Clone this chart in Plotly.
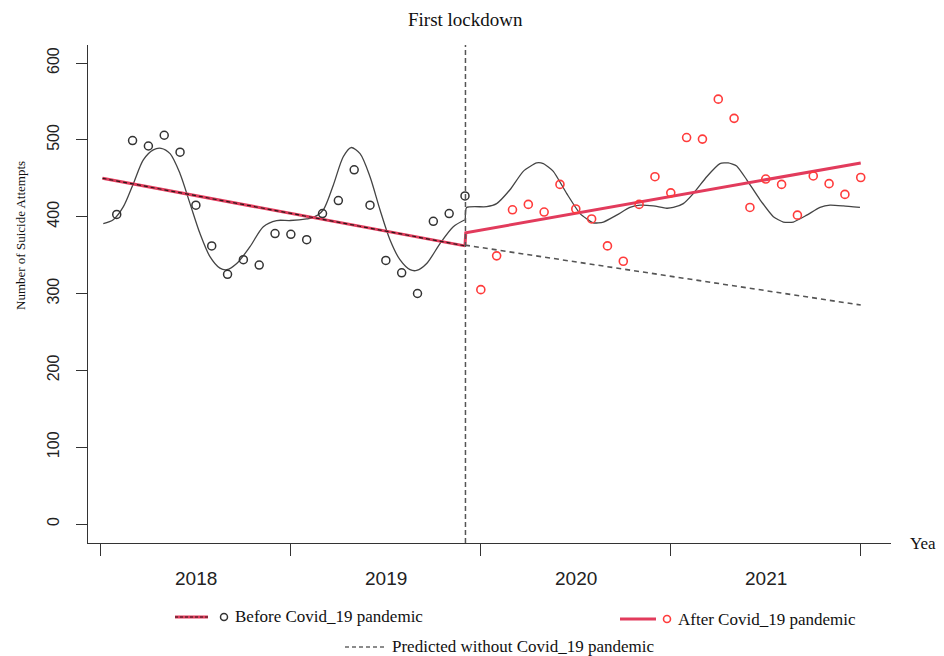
import plotly.graph_objects as go

# ---- data (months since Jan 2018 on x) ----
before_t = list(range(1, 24))
before_v = [403, 499, 492, 506, 484, 415, 362, 325, 344, 337, 378, 377,
            370, 404, 421, 461, 415, 343, 327, 300, 394, 404, 427]
after_t = list(range(24, 49))
after_v = [305, 349, 409, 416, 406, 442, 410, 397, 362, 342, 416, 452, 431,
           503, 501, 553, 528, 412, 449, 442, 402, 453, 443, 429, 451]

# fitted seasonal curve
fit_before_t = [0.15, 0.78, 1.42, 2.05, 2.68, 3.31, 3.8, 4.37, 5.0, 5.63, 6.26, 6.89,
                7.52, 7.95, 8.58, 9.42, 10.26, 11.1, 11.95, 13.0, 13.42, 14.05,
                14.68, 15.31, 15.8, 16.37, 17.0, 17.63, 18.26, 18.89, 19.53, 19.95,
                20.58, 21.42, 22.26, 23.0]
fit_before_v = [391, 396, 413, 443, 474, 487, 489, 482, 456, 417, 378, 348,
                333, 331, 339, 361, 387, 395, 395, 397, 399, 409,
                441, 478, 490, 482, 452, 409, 370, 344, 331, 330,
                339, 365, 387, 396]
fit_after_t = [23.02, 23.1, 24.37, 25.0, 25.84, 26.68, 27.53, 27.95, 28.58, 29.43, 30.27,
               31.1, 31.74, 32.58, 33.42, 34.06, 34.9, 35.74, 36.16, 36.79, 37.42,
               38.27, 39.11, 39.63, 40.16, 40.8, 41.64, 42.48, 43.11, 43.74, 44.59,
               45.43, 46.06, 46.9, 47.95]
fit_after_v = [397, 412, 413, 417, 435, 459, 470, 469, 459, 430, 404,
               392, 393, 402, 412, 415, 414, 411, 412, 417, 430,
               452, 469, 470, 466, 448, 422, 400, 393, 393, 402,
               412, 415, 414, 412]

# segmented regression lines
trend_before_t = [0.1, 23.0]
trend_before_v = [450, 362]
trend_after_t = [23.0, 23.05, 48.0]
trend_after_v = [363, 379, 470]
pred_t = [23.0, 48.0]
pred_v = [363, 285]

lockdown_t = 23.03
year_pos = [6, 18, 30, 42]
year_labels = ["2018", "2019", "2020", "2021"]
year_ticks = [0, 12, 24, 36, 48]
y_ticks = [0, 100, 200, 300, 400, 500, 600]

RED = "#e23b5c"
PT_RED = "#ff3b3b"
DARK = "#333333"
SERIF = "Liberation Serif, Times New Roman, serif"
SANS = "Liberation Sans, Arial, sans-serif"

fig = go.Figure()

fig.add_trace(go.Scatter(x=fit_before_t, y=fit_before_v, mode="lines",
                         line=dict(color="#444", width=1.3, shape="spline", smoothing=0.8),
                         showlegend=False, hoverinfo="skip"))
fig.add_trace(go.Scatter(x=fit_after_t, y=fit_after_v, mode="lines",
                         line=dict(color="#444", width=1.3, shape="spline", smoothing=0.5),
                         showlegend=False, hoverinfo="skip"))

fig.add_trace(go.Scatter(x=pred_t, y=pred_v, mode="lines",
                         line=dict(color="#555", width=1.6, dash="5px,4px"),
                         showlegend=False))
fig.add_trace(go.Scatter(x=trend_before_t, y=trend_before_v, mode="lines",
                         line=dict(color=RED, width=3), showlegend=False))
fig.add_trace(go.Scatter(x=trend_before_t, y=trend_before_v, mode="lines",
                         line=dict(color="#2a1a1a", width=1.2, dash="4px,3px"), showlegend=False))
fig.add_trace(go.Scatter(x=trend_after_t, y=trend_after_v, mode="lines",
                         line=dict(color=RED, width=3), showlegend=False))

fig.add_trace(go.Scatter(x=before_t, y=before_v, mode="markers",
                         marker=dict(symbol="circle-open", size=8, color=DARK,
                                     line=dict(width=1.5, color=DARK)),
                         showlegend=False))
fig.add_trace(go.Scatter(x=after_t, y=after_v, mode="markers",
                         marker=dict(symbol="circle-open", size=8, color=PT_RED,
                                     line=dict(width=1.6, color=PT_RED)),
                         showlegend=False))

# vertical lockdown line
fig.add_shape(type="line", xref="x", yref="paper", x0=lockdown_t, x1=lockdown_t,
              y0=0, y1=1, line=dict(color="#555", width=1.5, dash="5px,3px"))

# The page body has an 8px margin, so the figure is drawn 8px in and 8px down.
OFF = 8
W, H = 944 - OFF, 656 - OFF
# plot area in window pixels: x 88..891, y 45..543
PL, PR, PT, PB = 88, 891, 45, 543
ML, MR, MT, MB = PL - OFF, W - (PR - OFF), PT - OFF, H - (PB - OFF)
PW, PH = PR - PL, PB - PT


def px(xp):
    return (xp - PL) / PW


def py(yp):
    return (PB - yp) / PH


annotations = []
for pos, lab in zip(year_pos, year_labels):
    annotations.append(dict(x=pos, xref="x", y=py(578), yref="paper", text=lab,
                            showarrow=False, font=dict(family=SANS, size=19, color="#222"),
                            xanchor="center", yanchor="middle"))
annotations.append(dict(x=px(908), xref="paper", y=py(543), yref="paper", text="Year",
                        showarrow=False, font=dict(family=SERIF, size=17, color="#111"),
                        xanchor="left", yanchor="middle"))
annotations.append(dict(x=px(465), xref="paper", y=py(19), yref="paper", text="First lockdown",
                        showarrow=False, font=dict(family=SERIF, size=19, color="#111"),
                        xanchor="center", yanchor="middle"))
annotations.append(dict(x=px(20), xref="paper", y=py(236), yref="paper",
                        text="Number of Suicide Attempts", textangle=-90,
                        showarrow=False, font=dict(family=SERIF, size=13, color="#111"),
                        xanchor="center", yanchor="middle"))

# legend (drawn manually)
leg_font = dict(family=SERIF, size=17, color="#111")
annotations.append(dict(x=px(233), xref="paper", y=py(616), yref="paper",
                        text="Before Covid_19 pandemic", showarrow=False, font=leg_font,
                        xanchor="left", yanchor="middle"))
annotations.append(dict(x=px(676), xref="paper", y=py(619), yref="paper",
                        text="After Covid_19 pandemic", showarrow=False, font=leg_font,
                        xanchor="left", yanchor="middle"))
annotations.append(dict(x=px(390), xref="paper", y=py(646), yref="paper",
                        text="Predicted without Covid_19 pandemic", showarrow=False, font=leg_font,
                        xanchor="left", yanchor="middle"))

shapes = [
    dict(type="line", xref="paper", yref="paper", x0=px(175), x1=px(208), y0=py(617), y1=py(617),
         line=dict(color=RED, width=3)),
    dict(type="line", xref="paper", yref="paper", x0=px(175), x1=px(208), y0=py(617), y1=py(617),
         line=dict(color="#2a1a1a", width=1.2, dash="3px,2px")),
    dict(type="circle", xref="paper", yref="paper", x0=px(220.5), x1=px(227.5),
         y0=py(620.5), y1=py(613.5), line=dict(color=DARK, width=1.5)),
    dict(type="line", xref="paper", yref="paper", x0=px(620), x1=px(656), y0=py(619), y1=py(619),
         line=dict(color=RED, width=3)),
    dict(type="circle", xref="paper", yref="paper", x0=px(663.5), x1=px(670.5),
         y0=py(622.5), y1=py(615.5), line=dict(color=PT_RED, width=1.6)),
    dict(type="line", xref="paper", yref="paper", x0=px(345), x1=px(385), y0=py(647), y1=py(647),
         line=dict(color="#666", width=1.3, dash="4px,3px")),
]
for s in shapes:
    fig.add_shape(**s)

# window mapping: x_px = 100.9 + 15.83 * t ; y_px = 524 - 0.7683 * v
x0 = (PL - 100.9) / 15.83
x1 = (PR - 100.9) / 15.83
y0 = (524 - PB) / 0.7683
y1 = (524 - PT) / 0.7683

fig.update_layout(
    width=W, height=H,
    margin=dict(l=ML, r=MR, t=MT, b=MB, pad=0),
    paper_bgcolor="white", plot_bgcolor="white",
    showlegend=False,
    annotations=annotations,
    xaxis=dict(range=[x0, x1], showgrid=False, zeroline=False,
               showline=True, linecolor=DARK, linewidth=1.3,
               tickmode="array", tickvals=year_ticks, ticktext=[""] * len(year_ticks),
               ticks="outside", ticklen=12, tickwidth=1.3, tickcolor=DARK),
    yaxis=dict(range=[y0, y1], showgrid=False, zeroline=False,
               showline=True, linecolor=DARK, linewidth=1.3,
               tickmode="array", tickvals=y_ticks,
               ticks="outside", ticklen=11, tickwidth=1.3, tickcolor=DARK,
               tickangle=-90, ticklabelstandoff=10,
               tickfont=dict(family=SANS, size=16, color="#222")),
)

fig.write_html("out.html")
